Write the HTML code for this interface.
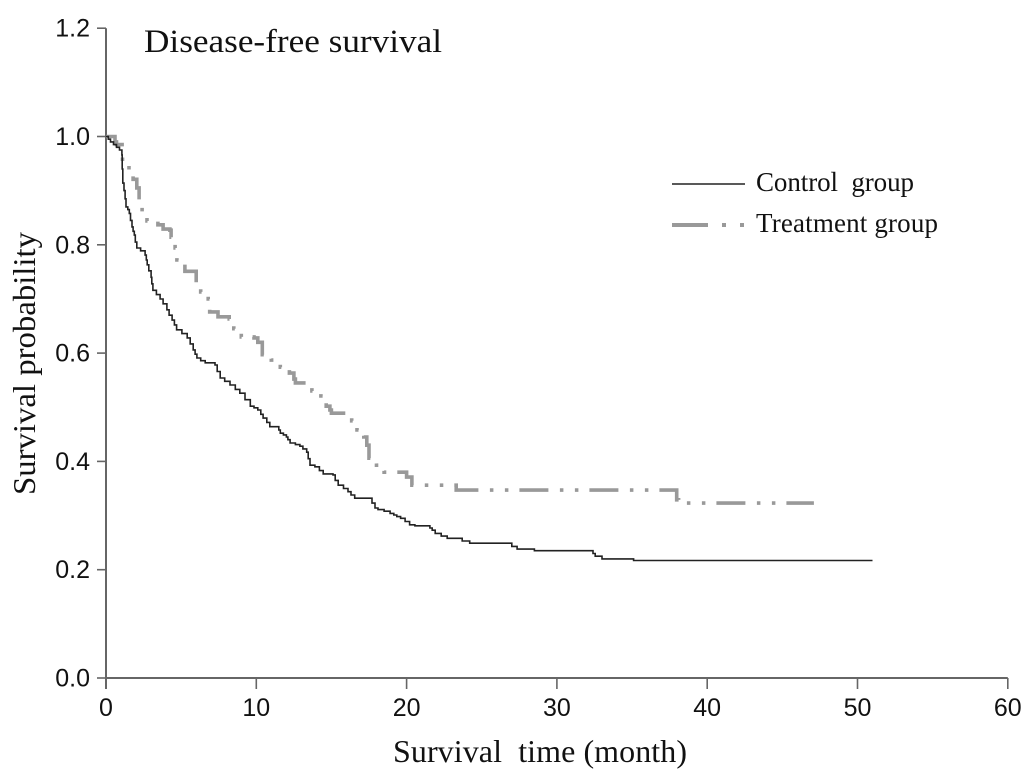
<!DOCTYPE html>
<html lang="en">
<head>
<meta charset="utf-8">
<title>Disease-free survival</title>
<style>
html,body{margin:0;padding:0;background:#fff;}
svg{display:block;}
.tick-label{font-family:"Liberation Sans",sans-serif;font-size:25px;fill:#111;}
.serif{font-family:"Liberation Serif",serif;fill:#111;}
</style>
</head>
<body>
<svg id="chart" xmlns="http://www.w3.org/2000/svg" width="1033" height="779" viewBox="0 0 1033 779">
  <rect x="0" y="0" width="1033" height="779" fill="#fff"/>
  <g id="axes"></g>
  <g id="series" style="filter:blur(0.35px)"></g>
  <text class="serif" x="144" y="52" font-size="33" textLength="298" lengthAdjust="spacingAndGlyphs">Disease-free survival</text>
  <text class="serif" x="393" y="762" font-size="32" textLength="294" lengthAdjust="spacing" xml:space="preserve">Survival  time (month)</text>
  <text class="serif" transform="translate(35,495) rotate(-90)" font-size="32" textLength="263" lengthAdjust="spacingAndGlyphs">Survival probability</text>
  <g>
    <g>
      <line x1="672" y1="184" x2="745" y2="184" stroke="#222" stroke-width="1.6"/>
      <text class="serif" x="756" y="191" font-size="27" textLength="158" lengthAdjust="spacing" xml:space="preserve">Control  group</text>
    </g>
    <g>
      <line x1="672" y1="225" x2="745" y2="225" stroke="#999" stroke-width="4" stroke-dasharray="36 14 4 14 4 1"/>
      <text class="serif" x="756" y="232" font-size="27" textLength="182" lengthAdjust="spacing">Treatment group</text>
    </g>
  </g>
</svg>
<script>
const xTicks = [0, 10, 20, 30, 40, 50, 60];
const yTicks = [0, 0.2, 0.4, 0.6, 0.8, 1.0, 1.2];
const yTickLabels = ["0.0", "0.2", "0.4", "0.6", "0.8", "1.0", "1.2"];

const controlTime = [0, 0.15, 0.3, 0.5, 0.7, 0.9, 1.06, 1.08, 1.12, 1.2, 1.27, 1.33, 1.45, 1.55, 1.63, 1.73, 1.8, 1.88, 1.95, 2.05, 2.3, 2.6, 2.68, 2.74, 2.85, 3.0, 3.05, 3.12, 3.35, 3.6, 3.8, 4.05, 4.2, 4.4, 4.55, 4.7, 5.05, 5.4, 5.6, 5.8, 5.93, 6.05, 6.3, 6.6, 7.25, 7.4, 7.6, 7.9, 8.25, 8.6, 8.9, 9.25, 9.6, 9.85, 10.1, 10.3, 10.45, 10.7, 10.9, 11.5, 11.6, 11.8, 12.0, 12.1, 12.25, 12.6, 12.9, 13.1, 13.35, 13.45, 13.57, 13.9, 14.2, 14.45, 15.1, 15.25, 15.45, 15.8, 16.1, 16.3, 16.55, 17.7, 17.9, 18.1, 18.5, 18.9, 19.15, 19.35, 19.6, 19.9, 20.2, 20.55, 21.55, 21.7, 21.9, 22.3, 22.7, 23.7, 24.2, 25.2, 27.0, 27.35, 28.5, 32.4, 32.55, 33, 35.1, 51];
const controlSurvival = [1.0, 0.995, 0.99, 0.985, 0.98, 0.975, 0.966, 0.94, 0.914, 0.90, 0.885, 0.87, 0.865, 0.858, 0.845, 0.833, 0.825, 0.818, 0.805, 0.794, 0.789, 0.781, 0.772, 0.763, 0.752, 0.74, 0.728, 0.716, 0.708, 0.70, 0.691, 0.68, 0.67, 0.661, 0.652, 0.643, 0.636, 0.628, 0.617, 0.606, 0.598, 0.591, 0.586, 0.582, 0.578, 0.566, 0.554, 0.548, 0.541, 0.533, 0.526, 0.514, 0.502, 0.499, 0.495, 0.487, 0.48, 0.472, 0.464, 0.458, 0.452, 0.449, 0.445, 0.44, 0.434, 0.431, 0.428, 0.423, 0.417, 0.405, 0.393, 0.39, 0.383, 0.377, 0.375, 0.365, 0.356, 0.35, 0.344, 0.338, 0.332, 0.323, 0.314, 0.311, 0.308, 0.304, 0.301, 0.298, 0.295, 0.289, 0.283, 0.281, 0.277, 0.273, 0.267, 0.262, 0.258, 0.253, 0.249, 0.249, 0.243, 0.238, 0.235, 0.23, 0.225, 0.22, 0.217, 0.217];

const treatmentTime = [0, 0.6, 0.7, 1.07, 1.1, 1.53, 1.8, 2.05, 2.2, 2.4, 2.73, 3.45, 3.8, 4.25, 4.33, 4.6, 4.72, 5.25, 6.0, 6.3, 6.8, 6.9, 7.45, 8.2, 8.5, 9, 9.85, 10.1, 10.4, 11, 11.6, 12.2, 12.5, 12.6, 13.7, 14.3, 14.65, 14.9, 15, 16.35, 16.7, 17.15, 17.35, 17.5, 18, 18.5, 20, 20.35, 23.3, 37.97, 38.1, 47.1];
const treatmentSurvival = [1.0, 0.99, 0.985, 0.979, 0.953, 0.938, 0.921, 0.905, 0.883, 0.861, 0.844, 0.837, 0.829, 0.827, 0.814, 0.794, 0.772, 0.751, 0.73, 0.713, 0.70, 0.676, 0.667, 0.663, 0.645, 0.63, 0.628, 0.62, 0.597, 0.587, 0.574, 0.563, 0.552, 0.545, 0.53, 0.521, 0.502, 0.495, 0.489, 0.475, 0.458, 0.445, 0.43, 0.406, 0.393, 0.38, 0.371, 0.356, 0.347, 0.329, 0.323, 0.323];

const NS = "http://www.w3.org/2000/svg";
const xScale = v => 106 + v * 15.03;
const yScale = v => 678 - v * 541.5;

function stepPath(times, values) {
  let d = "M" + xScale(times[0]).toFixed(1) + " " + yScale(values[0]).toFixed(1);
  for (let i = 1; i < times.length; i++) {
    d += "H" + xScale(times[i]).toFixed(1) + "V" + yScale(values[i]).toFixed(1);
  }
  return d;
}
function line(parent, x1, y1, x2, y2, w) {
  const l = document.createElementNS(NS, "line");
  l.setAttribute("x1", x1);
  l.setAttribute("y1", y1);
  l.setAttribute("x2", x2);
  l.setAttribute("y2", y2);
  l.setAttribute("stroke", "#666");
  l.setAttribute("stroke-width", w);
  parent.appendChild(l);
  return l;
}
function label(parent, x, y, anchor, str) {
  const t = document.createElementNS(NS, "text");
  t.setAttribute("x", x);
  t.setAttribute("y", y);
  t.setAttribute("text-anchor", anchor);
  t.setAttribute("class", "tick-label");
  t.textContent = str;
  parent.appendChild(t);
  return t;
}

const axes = document.getElementById("axes");
const xAxisLine = line(axes, xScale(0), yScale(0), xScale(60), yScale(0), 2);


const yAxisLine = line(axes, xScale(0), yScale(1.2), xScale(0), 689, 2);



xTicks.forEach(function (v) {
  const tick = line(axes, xScale(v), yScale(0), xScale(v), 689, 1.6);
  
  
  const lab = label(axes, xScale(v), 716, "middle", String(v));
  
  
});
yTicks.forEach(function (v, i) {
  const tick = line(axes, 97, yScale(v), xScale(0), yScale(v), 1.6);
  
  
  const lab = label(axes, 90, yScale(v) + 8.5, "end", yTickLabels[i]);
  
  
});

const series = document.getElementById("series");
const treatmentLine = document.createElementNS(NS, "path");


treatmentLine.setAttribute("d", stepPath(treatmentTime, treatmentSurvival));
treatmentLine.setAttribute("fill", "none");
treatmentLine.setAttribute("stroke", "#999");
treatmentLine.setAttribute("stroke-width", "3.6");
treatmentLine.setAttribute("stroke-dasharray", "29 11.5 3.5 11.5 3.5 11");
treatmentLine.setAttribute("stroke-dashoffset", "3");
series.appendChild(treatmentLine);

const controlLine = document.createElementNS(NS, "path");


controlLine.setAttribute("d", stepPath(controlTime, controlSurvival));
controlLine.setAttribute("fill", "none");
controlLine.setAttribute("stroke", "#222");
controlLine.setAttribute("stroke-width", "1.6");
series.appendChild(controlLine);
</script>
</body>
</html>
